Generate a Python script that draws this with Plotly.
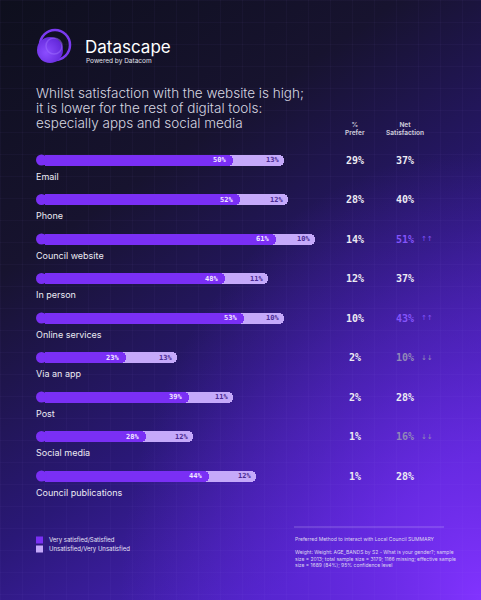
import base64
import plotly.graph_objects as go

# survey rows, top to bottom
channels = ["Email", "Phone", "Council website", "In person", "Online services",
            "Via an app", "Post", "Social media", "Council publications"]
satisfied = [50, 52, 61, 48, 53, 23, 39, 28, 44]
unsatisfied = [13, 12, 10, 11, 10, 13, 11, 12, 12]
prefer = [29, 28, 14, 12, 10, 2, 2, 1, 1]
net_sat = [37, 40, 51, 37, 43, 10, 28, 16, 28]
trend = ["", "", "up", "", "up", "down", "", "down", ""]

legend_names = ["Very satisfied/Satisfied", "Unsatisfied/Very Unsatisfied"]
title_lines = ["Whilst satisfaction with the website is high;",
               "it is lower for the rest of digital tools:",
               "especially apps and social media"]

W, H = 481, 600
PURPLE = "#7a2ff5"
LAVENDER = "#c5a9fa"
TXT = "#ecebf3"

# pixel layout of the plot area (bars start at 36px, ~3.93px per %)
x0_px, px_per = 36, 3.93
row0_px, row_step = 160, 39.5
bar_px = 11
r_units = (bar_px / 2) / px_per

# background: gradient + faint grid + logo
svg = f"""<svg xmlns='http://www.w3.org/2000/svg' width='{W}' height='{H}' viewBox='0 0 {W} {H}'>
<defs>
<linearGradient id='g' x1='0' y1='0' x2='0.55' y2='1'>
<stop offset='0' stop-color='#0e0f1d'/>
<stop offset='0.35' stop-color='#17132f'/>
<stop offset='0.7' stop-color='#2a1877'/>
<stop offset='1' stop-color='#4a22c0'/>
</linearGradient>
<radialGradient id='glow' cx='1' cy='1' r='0.75'>
<stop offset='0' stop-color='#8233ff' stop-opacity='1'/>
<stop offset='0.55' stop-color='#6a2ae8' stop-opacity='0.45'/>
<stop offset='1' stop-color='#6a2ae8' stop-opacity='0'/>
</radialGradient>
<pattern id='grid' width='22' height='22' patternUnits='userSpaceOnUse'>
<path d='M22 0 L0 0 0 22' fill='none' stroke='#a48cff' stroke-opacity='0.07' stroke-width='1'/>
</pattern>
<radialGradient id='logo' cx='0.35' cy='0.6' r='0.8'>
<stop offset='0' stop-color='#8b4dff'/>
<stop offset='1' stop-color='#5a1fd1'/>
</radialGradient>
</defs>
<rect width='{W}' height='{H}' fill='url(#g)'/>
<rect width='{W}' height='{H}' fill='url(#glow)'/>
<rect width='{W}' height='{H}' fill='url(#grid)'/>
<circle cx='55' cy='45' r='15' fill='none' stroke='#7a3af0' stroke-width='2.5'/>
<circle cx='50' cy='50' r='13' fill='url(#logo)'/>
<circle cx='54' cy='46' r='8' fill='none' stroke='#a070ff' stroke-opacity='0.5' stroke-width='1.5'/>
</svg>"""
bg_src = "data:image/svg+xml;base64," + base64.b64encode(svg.encode()).decode()

rows = list(range(len(channels)))
totals = [s + u for s, u in zip(satisfied, unsatisfied)]

fig = go.Figure()
# lavender bar runs to the total, purple sits on top of it
fig.add_trace(go.Bar(
    y=rows, x=[t - r_units for t in totals], base=[r_units] * len(rows),
    orientation="h", width=bar_px / row_step, name=legend_names[1],
    marker=dict(color=LAVENDER, cornerradius=bar_px / 2, line_width=0),
    hoverinfo="skip",
))
fig.add_trace(go.Bar(
    y=rows, x=[s - r_units for s in satisfied], base=[r_units] * len(rows),
    orientation="h", width=bar_px / row_step, name=legend_names[0],
    marker=dict(color=PURPLE, cornerradius=bar_px / 2, line_width=0),
    hoverinfo="skip",
))
# round left caps
fig.add_trace(go.Scatter(
    y=rows, x=[r_units] * len(rows), mode="markers", hoverinfo="skip",
    marker=dict(color=PURPLE, size=bar_px, line_width=0),
))

ann = []
for i, name in enumerate(channels):
    # value labels inside the bars
    ann.append(dict(x=satisfied[i], y=i, xref="x", yref="y", text=f"{satisfied[i]}%",
                    showarrow=False, xanchor="right", yanchor="middle", xshift=-5,
                    font=dict(family="DejaVu Sans Mono", size=7, color="#f1e9ff", weight="bold")))
    ann.append(dict(x=totals[i], y=i, xref="x", yref="y", text=f"{unsatisfied[i]}%",
                    showarrow=False, xanchor="right", yanchor="middle", xshift=-3,
                    font=dict(family="DejaVu Sans Mono", size=7, color="#4b2a93", weight="bold")))
    ann.append(dict(x=0, y=i, xref="x", yref="y", text=name, showarrow=False,
                    xanchor="left", yanchor="middle", yshift=-16, xshift=-2,
                    font=dict(family="Inter", size=9, color=TXT)))
    ann.append(dict(x=355 / W, y=i, xref="paper", yref="y", text=f"{prefer[i]}%",
                    showarrow=False, xanchor="center", yanchor="middle",
                    font=dict(family="DejaVu Sans Mono", size=10, color=TXT, weight="bold")))
    if trend[i] == "up":
        col, arrow = "#8455fb", "↑↑"
    elif trend[i] == "down":
        col, arrow = "#9189b8", "↓↓"
    else:
        col, arrow = TXT, ""
    ann.append(dict(x=405 / W, y=i, xref="paper", yref="y", text=f"{net_sat[i]}%",
                    showarrow=False, xanchor="center", yanchor="middle",
                    font=dict(family="DejaVu Sans Mono", size=10, color=col, weight="bold")))
    if arrow:
        ann.append(dict(x=419 / W, y=i, xref="paper", yref="y", text=arrow,
                        showarrow=False, xanchor="left", yanchor="middle",
                        font=dict(family="DejaVu Sans", size=7, color=col)))

def px_x(p):
    return p / W

def px_y(p):
    return 1 - p / H

static = [
    dict(x=px_x(83), y=px_y(47), text="Datascape", xanchor="left", yanchor="middle",
         font=dict(family="Inter", size=17, color="#ffffff")),
    dict(x=px_x(84), y=px_y(61), text="Powered by Datacom", xanchor="left", yanchor="middle",
         font=dict(family="Inter", size=6.5, color="#e0e0ea")),
    dict(x=px_x(355), y=px_y(129), text="%<br>Prefer", xanchor="center", yanchor="middle",
         font=dict(family="Inter", size=6.5, color="#c8c6d6", weight="bold")),
    dict(x=px_x(405), y=px_y(129), text="Net<br>Satisfaction", xanchor="center", yanchor="middle",
         font=dict(family="Inter", size=6.5, color="#c8c6d6", weight="bold")),
    dict(x=px_x(293), y=px_y(534), text="Preferred Method to interact with Local Council SUMMARY<br><br>"
         "Weight: Weight: AGE_BANDS by S2 - What is your gender?; sample<br>"
         "size = 2013; total sample size = 3179; 1166 missing; effective sample<br>"
         "size = 1689 (84%); 95% confidence level",
         xanchor="left", yanchor="top", align="left",
         font=dict(family="Inter", size=5, color="#dcd6f0")),
]
for k, line in enumerate(title_lines):
    static.append(dict(x=px_x(34), y=px_y(93 + 15 * k), text=line, xanchor="left",
                       yanchor="middle", font=dict(family="Inter", size=13.5, color="#d6d6e0",
                                                   weight=300)))
# legend keys
for k, name in enumerate(legend_names):
    static.append(dict(x=px_x(47), y=px_y(540 + 9 * k), text=name, xanchor="left",
                       yanchor="middle", font=dict(family="Inter", size=6, color="#e6e2f5")))
for a in static:
    a.update(xref="paper", yref="paper", showarrow=False)
ann += static

shapes = [dict(type="line", xref="paper", yref="paper", x0=px_x(294), x1=px_x(444),
               y0=px_y(527), y1=px_y(527), line=dict(color="rgba(220,210,255,0.35)", width=1))]
for k, col in enumerate([PURPLE, LAVENDER]):
    cy = 540 + 9 * k
    shapes.append(dict(type="rect", xref="paper", yref="paper", x0=px_x(36), x1=px_x(43),
                       y0=px_y(cy - 3.5), y1=px_y(cy + 3.5), fillcolor=col, line_width=0))

fig.update_layout(
    width=W, height=H, margin=dict(l=0, r=0, t=0, b=0),
    paper_bgcolor="#1a1440", plot_bgcolor="rgba(0,0,0,0)",
    barmode="overlay", bargap=0, showlegend=False,
    images=[dict(source=bg_src, xref="paper", yref="paper", x=0, y=1, sizex=1, sizey=1,
                 xanchor="left", yanchor="top", sizing="stretch", layer="below")],
    xaxis=dict(domain=[0, 1], range=[-x0_px / px_per, (W - x0_px) / px_per], visible=False,
               fixedrange=True),
    yaxis=dict(domain=[0, 1], range=[(H - row0_px) / row_step, -row0_px / row_step],
               visible=False, fixedrange=True),
    annotations=ann,
    shapes=shapes,
    font=dict(family="Inter"),
)

fig.write_html("out.html", config={"displayModeBar": False},
               post_script="document.body.style.margin='0';document.body.style.overflow='hidden';")
